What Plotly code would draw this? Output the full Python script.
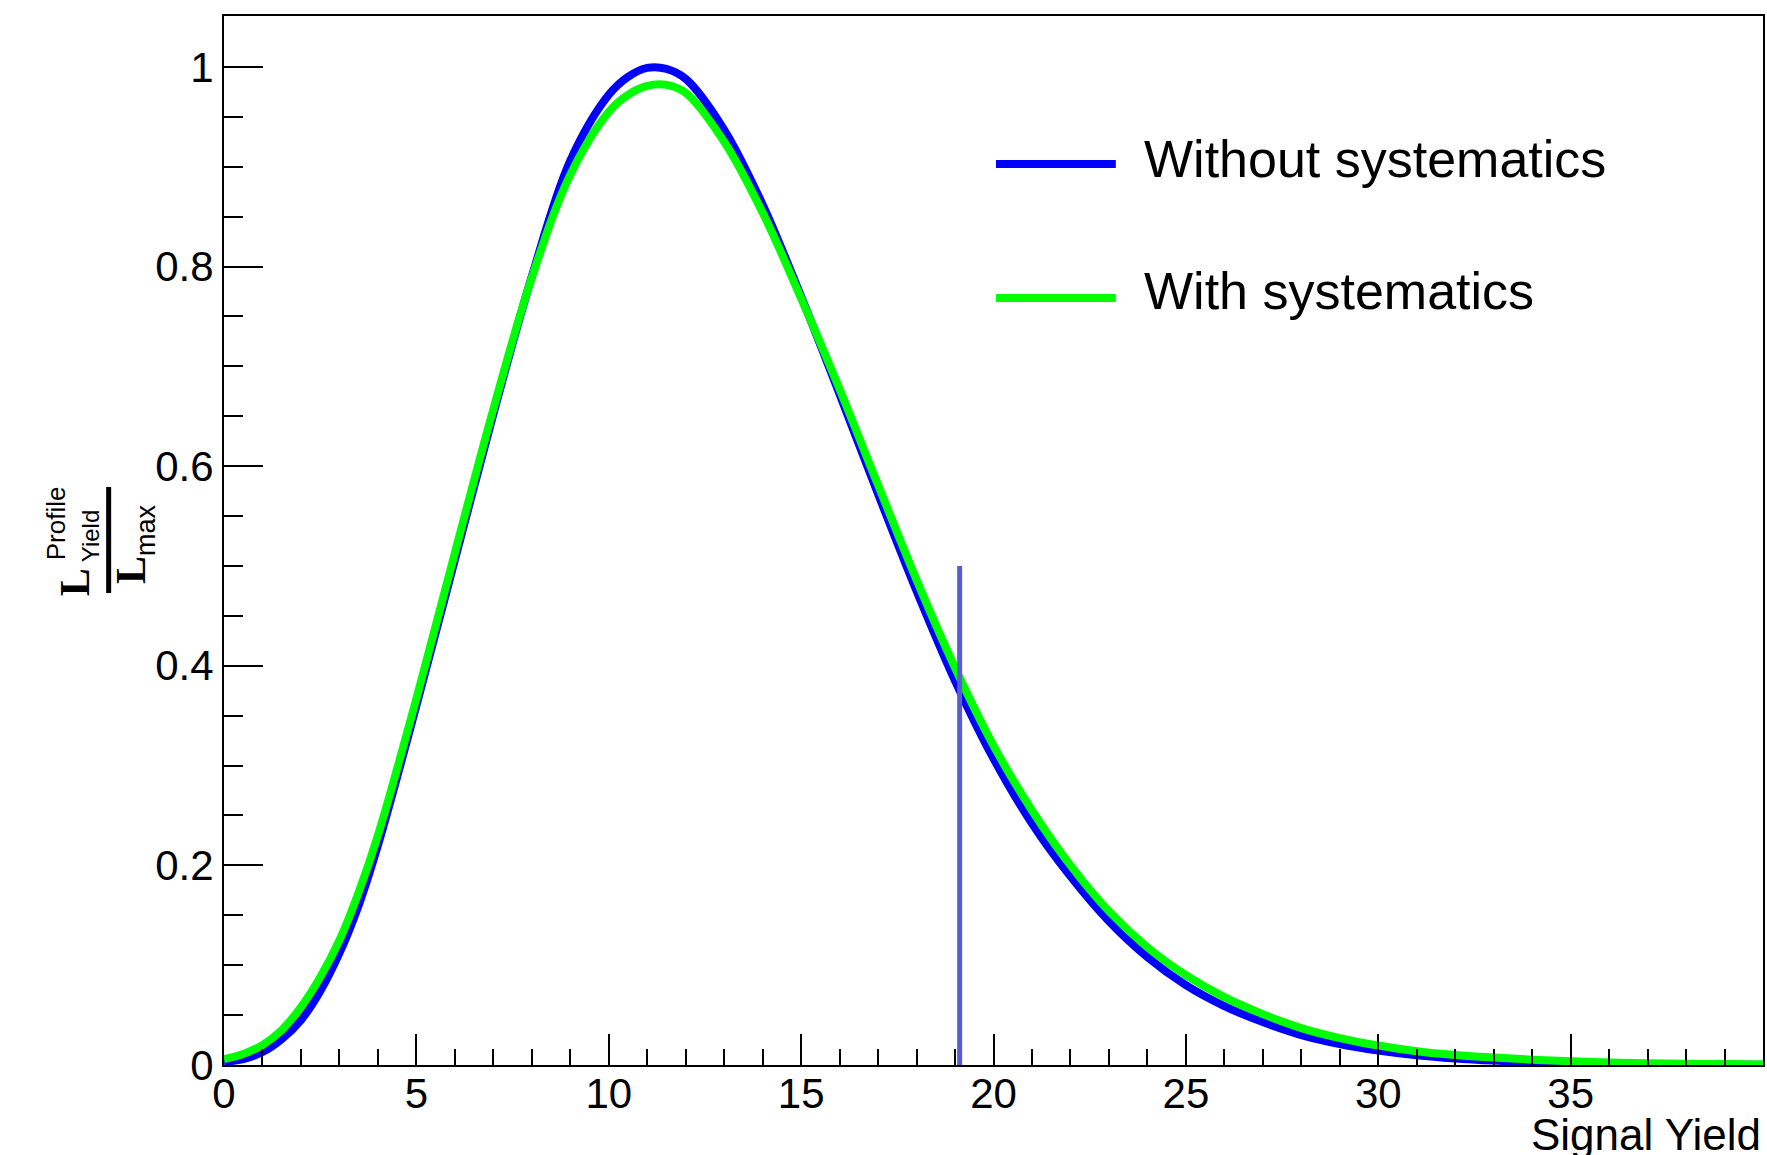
import plotly.graph_objects as go

# ---- data ----
signal_yield = [0, 0.5, 1, 1.5, 2, 2.5, 3, 3.5, 4, 5, 6, 7, 8, 9, 10, 10.5, 11, 11.5, 12, 13, 14, 15, 16,
                17, 18, 19, 20, 21, 22, 23, 24, 25, 26, 27, 28, 29, 30, 31, 32, 33, 34, 35, 36, 37,
                38, 39, 40]

without_syst = [0.003, 0.006, 0.013, 0.026, 0.045, 0.074, 0.112, 0.160, 0.220, 0.360, 0.506, 0.652,
                0.790, 0.906, 0.972, 0.990, 0.999, 0.998, 0.988, 0.937, 0.862, 0.770, 0.672,
                0.572, 0.475, 0.385, 0.307, 0.242, 0.189, 0.144, 0.108, 0.080, 0.059, 0.043,
                0.030, 0.021, 0.0145, 0.0098, 0.0066, 0.0044, 0.0029, 0.0019, 0.0012, 0.0008,
                0.0005, 0.0003, 0.0002]

with_syst = [0.006, 0.011, 0.020, 0.035, 0.058, 0.088, 0.125, 0.173, 0.230, 0.367, 0.513, 0.657,
             0.789, 0.892, 0.955, 0.972, 0.981, 0.982, 0.974, 0.925, 0.854, 0.768, 0.677,
             0.581, 0.486, 0.398, 0.320, 0.255, 0.200, 0.154, 0.118, 0.090, 0.068, 0.051,
             0.037, 0.027, 0.0195, 0.0138, 0.0100, 0.0075, 0.0053, 0.0037, 0.0026, 0.0018,
             0.0013, 0.0009, 0.0006]

limit_x = [19.12, 19.12]
limit_y = [0.0, 0.5]

x_tick_vals = [0, 5, 10, 15, 20, 25, 30, 35]
x_tick_text = ["0", "5", "10", "15", "20", "25", "30", "35"]
y_tick_vals = [0, 0.2, 0.4, 0.6, 0.8, 1.0]
y_tick_text = ["0", "0.2", "0.4", "0.6", "0.8", "1"]

series_names = ["Without systematics", "With systematics"]
series_colors = ["#0000ff", "#00ff00"]

# ---- geometry (pixels) ----
W, H = 1767, 1155
ML, MR, MT, MB = 224, 2, 16, 90
PW = W - ML - MR
PH = H - MT - MB

def px_x(p):
    return (p - ML) / PW

def px_y(p):
    return (H - MB - p) / PH

SANS = "Liberation Sans, Arial, Helvetica, sans-serif"
SERIF = "Liberation Serif, Times New Roman, serif"

fig = go.Figure()
fig.add_trace(go.Scatter(x=signal_yield, y=without_syst, mode="lines", name=series_names[0],
                         line=dict(color=series_colors[0], width=8, shape="spline", smoothing=1.0),
                         showlegend=False))
fig.add_trace(go.Scatter(x=signal_yield, y=with_syst, mode="lines", name=series_names[1],
                         line=dict(color=series_colors[1], width=8, shape="spline", smoothing=1.0),
                         showlegend=False))
fig.add_trace(go.Scatter(x=limit_x, y=limit_y, mode="lines", name="limit",
                         line=dict(color="#5b5bd6", width=5), showlegend=False))

axis_common = dict(showline=True, linecolor="black", linewidth=2, mirror=True,
                   showgrid=False, zeroline=False, ticks="inside", tickcolor="black",
                   tickwidth=2, tickfont=dict(family=SANS, size=42, color="black"))

fig.update_xaxes(range=[0, 40], tickvals=x_tick_vals, ticktext=x_tick_text, ticklen=31,
                 ticklabelstandoff=-9,
                 minor=dict(dtick=1, tick0=0, ticklen=16, tickwidth=2, tickcolor="black", ticks="inside"),
                 **axis_common)
fig.update_yaxes(range=[0, 1.051], tickvals=y_tick_vals, ticktext=y_tick_text, ticklen=39,
                 minor=dict(dtick=0.05, tick0=0, ticklen=19, tickwidth=2, tickcolor="black", ticks="inside"),
                 **axis_common)

annotations = []
shapes = []

# x-axis title
annotations.append(dict(text="Signal Yield", xref="paper", yref="paper", x=1, y=px_y(1134),
                        xanchor="right", yanchor="middle", showarrow=False,
                        font=dict(family=SANS, size=44, color="black")))

# legend (drawn by hand, ROOT style)
legend_rows = [(164, 159), (298, 291)]
for (ly, ty), name, col in zip(legend_rows, series_names, series_colors):
    shapes.append(dict(type="line", xref="paper", yref="paper", x0=px_x(997), x1=px_x(1117),
                       y0=px_y(ly), y1=px_y(ly), line=dict(color=col, width=8)))
    annotations.append(dict(text=name, xref="paper", yref="paper", x=px_x(1143), y=px_y(ty),
                            xanchor="left", yanchor="middle", showarrow=False,
                            font=dict(family=SANS, size=52, color="black")))

# y-axis title: L^Profile_Yield / L_max (rotated)
def ytitle_piece(text, cx, cy, family, size):
    annotations.append(dict(text=text, xref="paper", yref="paper", x=px_x(cx), y=px_y(cy),
                            xanchor="center", yanchor="middle", showarrow=False, textangle=-90,
                            font=dict(family=family, size=size, color="black")))

ytitle_piece("<b>L</b>", 75, 582, SERIF, 42)
ytitle_piece("Yield", 90, 536, SANS, 24)
ytitle_piece("Profile", 56, 523, SANS, 26)
ytitle_piece("<b>L</b>", 131, 570, SERIF, 42)
ytitle_piece("max", 146, 530, SANS, 27)
shapes.append(dict(type="line", xref="paper", yref="paper", x0=px_x(108.5), x1=px_x(108.5),
                   y0=px_y(593), y1=px_y(487), line=dict(color="black", width=5)))

fig.update_layout(width=W, height=H, margin=dict(l=ML, r=MR, t=MT, b=MB, pad=0),
                  paper_bgcolor="white", plot_bgcolor="white",
                  annotations=annotations, shapes=shapes)

fig.write_html("out.html", config={"displayModeBar": False},
               post_script="document.body.style.margin='0';document.body.style.overflow='hidden';")
